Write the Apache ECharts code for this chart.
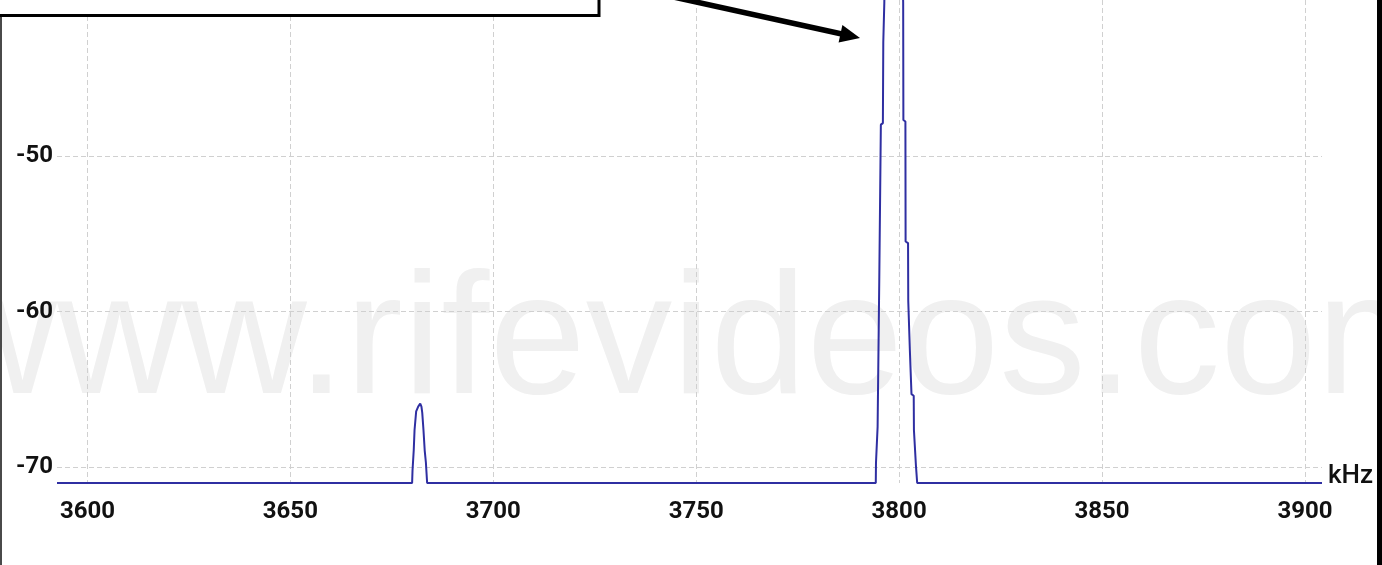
<!DOCTYPE html>
<html>
<head>
<meta charset="utf-8">
<script src="https://cdn.jsdelivr.net/npm/echarts@6/dist/echarts.min.js"></script>
<style>
  html, body { margin: 0; padding: 0; background: #ffffff; }
  #chart { width: 1382px; height: 565px; }
</style>
</head>
<body>
<div id="chart"></div>
<script>
// Spectrum trace samples: frequency in kHz and level in dB
const freqKHz = [
  3592.5,
  3680.0, 3680.1, 3680.4, 3680.6, 3681.0, 3681.5, 3682.0, 3682.3, 3682.5, 3682.8, 3683.1, 3683.4, 3683.7,
  3794.25, 3794.3, 3794.65, 3794.7, 3795.05, 3795.1, 3795.45, 3795.5, 3796.0, 3796.1, 3796.3, 3796.35,
  3797.2, 3798.6, 3800.1,
  3801.0, 3801.05, 3801.55, 3801.6, 3802.2, 3802.25, 3802.6, 3802.65, 3803.0, 3803.05, 3803.6, 3803.65,
  3804.1, 3804.15, 3804.4, 3804.45,
  3904.2
];
const levelDb = [
  -71.0,
  -71.0, -70.2, -68.9, -67.6, -66.4, -66.1, -65.9, -66.1, -66.5, -67.6, -68.9, -69.7, -71.0,
  -71.0, -69.7, -69.6, -67.4, -67.3, -58.2, -58.1, -48.0, -47.9, -42.7, -42.6, -40.2,
  -25.0, -12.0, -25.0,
  -40.2, -47.7, -47.8, -55.5, -55.6, -59.3, -59.4, -62.5, -62.6, -65.3, -65.4, -67.6,
  -67.7, -69.9, -70.0, -71.0,
  -71.0
];

// Visible axis extents and labelled ticks
const freqRange = [3592.5, 3904.2];
const levelRange = [-71, -40];
const freqTicks = [3600, 3650, 3700, 3750, 3800, 3850, 3900];
const levelTicks = [-70, -60, -50];
const freqUnit = 'kHz';
const watermarkText = 'www.rifevideos.com';

const trace = freqKHz.map((f, i) => [f, levelDb[i]]);

const labelFont = {
  fontFamily: 'Roboto',
  fontWeight: 'bold',
  fontSize: 24,
  color: '#111111'
};

const gridLine = {
  show: true,
  showMinLine: false,
  showMaxLine: false,
  lineStyle: { color: '#d0d0d0', width: 1, type: [5, 3] }
};

const chart = echarts.init(document.getElementById('chart'), null, { renderer: 'canvas' });

chart.setOption({
  backgroundColor: '#ffffff',
  animation: false,
  grid: { left: 57, right: 60, top: -3, bottom: 82, containLabel: false },
  xAxis: {
    type: 'value',
    min: freqRange[0],
    max: freqRange[1],
    splitNumber: 6,
    axisLine: { show: false },
    axisTick: { show: false },
    axisLabel: Object.assign({
      margin: 17,
      showMinLabel: false,
      showMaxLabel: false,
      formatter: v => (freqTicks.includes(v) ? String(v) : '')
    }, labelFont),
    splitLine: gridLine,
    name: freqUnit,
    nameLocation: 'end',
    nameGap: 6,
    nameTextStyle: {
      fontFamily: 'Roboto',
      fontWeight: 500,
      fontSize: 26,
      color: '#111111',
      align: 'left',
      verticalAlign: 'bottom',
      lineHeight: 14
    }
  },
  yAxis: {
    type: 'value',
    min: levelRange[0],
    max: levelRange[1],
    splitNumber: 3,
    axisLine: { show: false },
    axisTick: { show: false },
    axisLabel: Object.assign({
      margin: 4,
      showMinLabel: false,
      showMaxLabel: false,
      formatter: v => (levelTicks.includes(v) ? String(v) : '')
    }, labelFont),
    splitLine: gridLine
  },
  series: [{
    type: 'line',
    data: trace,
    showSymbol: false,
    symbol: 'none',
    clip: true,
    lineStyle: { color: '#2f2fa2', width: 2 },
    z: 3
  }],
  graphic: {
    elements: [
      {
        type: 'text',
        z: -10,
        silent: true,
        x: -68,
        y: 345,
        style: {
          text: watermarkText,
          font: '173px "Liberation Sans", Arial, sans-serif',
          fill: '#f0f0f0',
          align: 'left',
          verticalAlign: 'middle'
        }
      },
      {
        type: 'rect',
        z: 50,
        silent: true,
        shape: { x: 0, y: 0, width: 2, height: 565 },
        style: { fill: '#4a4a4a' }
      },
      {
        type: 'rect',
        z: 50,
        silent: true,
        shape: { x: 1377, y: 0, width: 5, height: 565 },
        style: { fill: '#000000' }
      },
      {
        type: 'rect',
        z: 60,
        silent: true,
        shape: { x: -3, y: -30, width: 602, height: 45.5 },
        style: { fill: '#ffffff', stroke: '#000000', lineWidth: 3 }
      },
      {
        type: 'line',
        z: 60,
        silent: true,
        shape: { x1: 641.5, y1: -10, x2: 843, y2: 34.2 },
        style: { stroke: '#000000', lineWidth: 5.5 }
      },
      {
        type: 'polygon',
        z: 60,
        silent: true,
        shape: { points: [[860, 38], [838.6, 42.5], [842.4, 24.9]] },
        style: { fill: '#000000' }
      }
    ]
  }
});
</script>
</body>
</html>
